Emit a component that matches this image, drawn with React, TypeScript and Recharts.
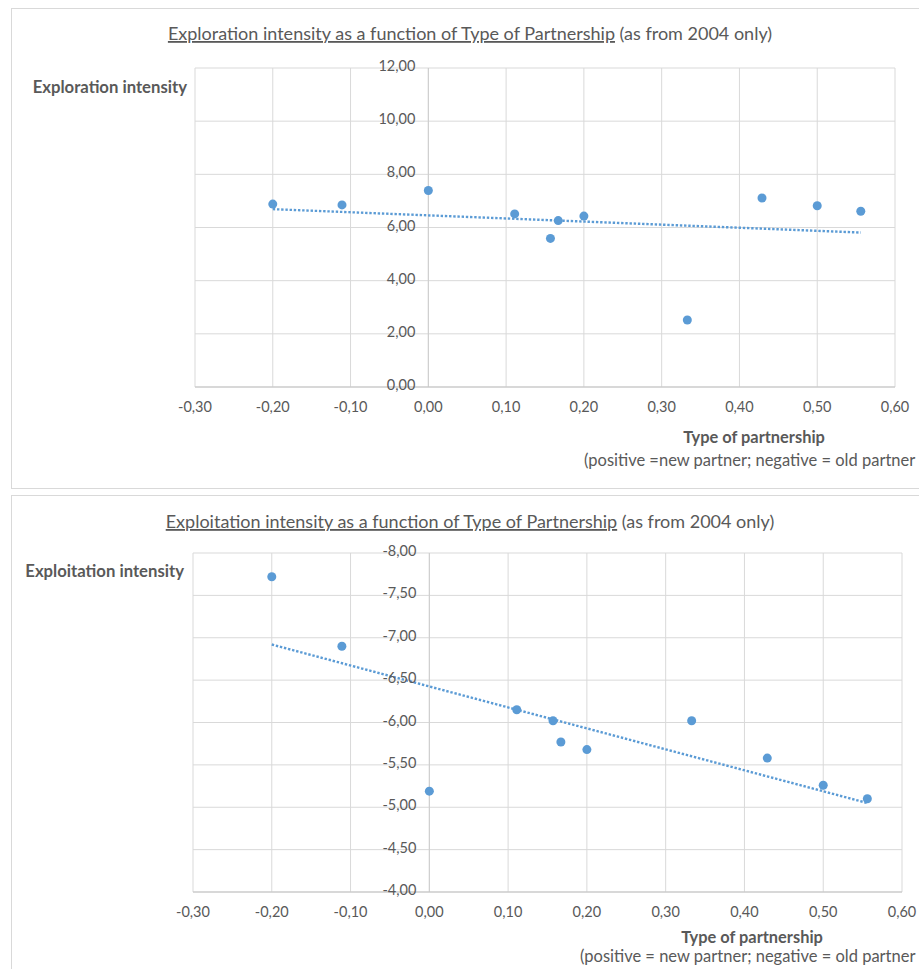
import { ScatterChart, Scatter, XAxis, YAxis, CartesianGrid, ReferenceLine } from "recharts";

// type of partnership per firm (same x for both charts)
const partnership = [-0.2, -0.111, 0, 0.111, 0.157, 0.167, 0.2, 0.333, 0.429, 0.5, 0.556];
const exploration = [6.88, 6.85, 7.39, 6.51, 5.59, 6.26, 6.43, 2.52, 7.11, 6.82, 6.61];
const exploitation = [-7.72, -6.9, -5.19, -6.15, -6.02, -5.77, -5.68, -6.02, -5.58, -5.26, -5.1];

// dotted linear trend lines, endpoints
const trendX = [-0.2, 0.556];
const explorationTrend = [6.69, 5.81];
const exploitationTrend = [-6.92, -5.05];

const xTicks = [-0.3, -0.2, -0.1, 0, 0.1, 0.2, 0.3, 0.4, 0.5, 0.6];
const explorationTicks = [0, 2, 4, 6, 8, 10, 12];
const exploitationTicks = [-8, -7.5, -7, -6.5, -6, -5.5, -5, -4.5, -4];

const BLUE = "#5b9bd5";
const TEXT = "#595959";
const FONT = "Lato, 'Open Sans', sans-serif";

const fmt = (v: number) => v.toFixed(2).replace(".", ",");

const zip = (xs: number[], ys: number[]) => xs.map((x, i) => ({ x, y: ys[i] }));

type PanelProps = {
  top: number;
  height: number;
  margin: { top: number; right: number; bottom: number; left: number };
  points: { x: number; y: number }[];
  trend: { x: number; y: number }[];
  yDomain: [number, number];
  yTicks: number[];
  reversed?: boolean;
};

function Panel({ top, height, margin, points, trend, yDomain, yTicks, reversed }: PanelProps) {
  const width = 919;
  const plotLeft = margin.left + 60;
  const plotW = width - margin.right - plotLeft;
  const plotBottom = height - margin.bottom - 30;
  const zeroX = plotLeft + ((0 - xTicks[0]) / (xTicks[xTicks.length - 1] - xTicks[0])) * plotW;

  const xTick = (p: any) => (
    <text x={p.x} y={plotBottom + 25} textAnchor="middle" fill={TEXT} fontSize={14.5} fontFamily={FONT}>
      {fmt(p.payload.value)}
    </text>
  );
  const yTick = (p: any) => (
    <text x={zeroX - 13} y={p.y + 3} textAnchor="end" fill={TEXT} fontSize={14.5} fontFamily={FONT}>
      {fmt(p.payload.value)}
    </text>
  );

  return (
    <div style={{ position: "absolute", left: 0, top, width, height }}>
      <ScatterChart width={width} height={height} margin={margin}>
        <CartesianGrid stroke="#d9d9d9" />
        <XAxis
          type="number"
          dataKey="x"
          domain={[xTicks[0], xTicks[xTicks.length - 1]]}
          ticks={xTicks}
          tick={xTick}
          tickLine={false}
          axisLine={{ stroke: "#c4c4c4" }}
          height={30}
          allowDataOverflow
        />
        <YAxis
          type="number"
          dataKey="y"
          domain={yDomain}
          ticks={yTicks}
          tick={yTick}
          tickLine={false}
          axisLine={false}
          reversed={reversed}
          width={60}
          allowDataOverflow
        />
        <ReferenceLine x={0} stroke="#cdcdcd" />
        <Scatter
          data={trend}
          line={{ stroke: BLUE, strokeWidth: 2.4, strokeDasharray: "2.4 1.8" }}
          shape={() => <g />}
          isAnimationActive={false}
        />
        <Scatter
          data={points}
          fill={BLUE}
          shape={(p: any) => <circle cx={p.cx} cy={p.cy} r={4.5} fill={BLUE} />}
          isAnimationActive={false}
        />
      </ScatterChart>
    </div>
  );
}

export default function App() {
  const box = { position: "absolute" as const, left: 11, width: 930, border: "1px solid #d9d9d9", boxSizing: "border-box" as const };
  return (
    <div style={{ position: "absolute", left: 0, top: 0, width: 919, height: 969, overflow: "hidden", background: "#fff" }}>
      <div style={{ ...box, top: 8, height: 481 }} />
      <div style={{ ...box, top: 495, height: 480 }} />

      <Panel
        top={0}
        height={488}
        margin={{ top: 68, right: 24, bottom: 71, left: 135 }}
        points={zip(partnership, exploration)}
        trend={zip(trendX, explorationTrend)}
        yDomain={[0, 12]}
        yTicks={explorationTicks}
      />
      <Panel
        top={488}
        height={481}
        margin={{ top: 65, right: 17, bottom: 47, left: 133 }}
        points={zip(partnership, exploitation)}
        trend={zip(trendX, exploitationTrend)}
        yDomain={[-8, -4]}
        yTicks={exploitationTicks}
        reversed
      />

      <svg width={919} height={969} style={{ position: "absolute", left: 0, top: 0, pointerEvents: "none" }} fontFamily={FONT} fill={TEXT}>
        <text x={470} y={40} textAnchor="middle" fontSize={18}>
          <tspan style={{ textDecoration: "underline" }}>Exploration intensity as a function of Type of Partnership</tspan>
          <tspan> (as from 2004 only)</tspan>
        </text>
        <text x={187} y={93} textAnchor="end" fontSize={16.7} fontWeight="bold">Exploration intensity</text>
        <text x={754} y={443} textAnchor="middle" fontSize={16.4} fontWeight="bold">Type of partnership</text>
        <text x={584} y={466} fontSize={16.5}>(positive =new partner; negative = old partner</text>

        <text x={470} y={528} textAnchor="middle" fontSize={18}>
          <tspan style={{ textDecoration: "underline" }}>Exploitation intensity as a function of Type of Partnership</tspan>
          <tspan> (as from 2004 only)</tspan>
        </text>
        <text x={184} y={577} textAnchor="end" fontSize={16.7} fontWeight="bold">Exploitation intensity</text>
        <text x={752} y={943} textAnchor="middle" fontSize={16.4} fontWeight="bold">Type of partnership</text>
        <text x={580} y={962} fontSize={16.5}>(positive = new partner; negative = old partner</text>
      </svg>
    </div>
  );
}
